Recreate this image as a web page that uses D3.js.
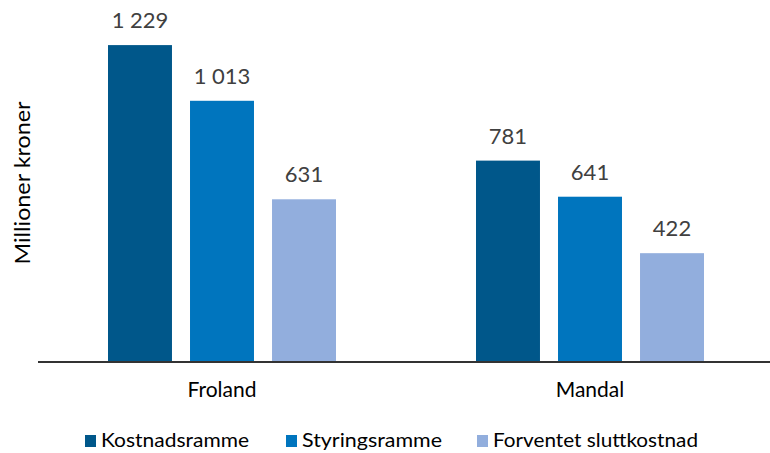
<!DOCTYPE html>
<html>
<head>
<meta charset="UTF-8">
<style>
  body { margin: 0; background: #fff; }
  text { font-family: Lato, "Open Sans", sans-serif; fill: #000; }
</style>
<script src="https://d3js.org/d3.v7.min.js"></script>
</head>
<body>
<div id="chart"></div>
<script>
const groups = ["Froland", "Mandal"];
const series = ["Kostnadsramme", "Styringsramme", "Forventet sluttkostnad"];
const colors = ["#00578A", "#0075BE", "#92AEDD"];
const values = {
  Froland: [1229, 1013, 631],
  Mandal: [781, 641, 422]
};

const width = 770, height = 453;
const svg = d3.select("#chart").append("svg")
  .attr("width", width).attr("height", height);

const x0 = d3.scaleBand().domain(groups).range([38, 774]);
const x1 = d3.scaleBand().domain(series).range([-114, 114]).paddingInner(0.22);
const y = d3.scaleLinear().domain([0, 1400]).range([362, 1]);

const fmt = v => d3.format(",")(v).replace(",", " ");

groups.forEach(g => {
  const cx = x0(g) + x0.bandwidth() / 2;
  series.forEach((s, i) => {
    const v = values[g][i];
    svg.append("rect")
      .attr("x", cx + x1(s))
      .attr("y", y(v))
      .attr("width", x1.bandwidth())
      .attr("height", y(0) - y(v))
      .attr("fill", colors[i]);
    svg.append("text")
      .attr("x", cx + x1(s) + x1.bandwidth() / 2)
      .attr("y", y(v) - 17)
      .attr("text-anchor", "middle")
      .attr("font-size", 22)
      .style("fill", "#404040")
      .text(fmt(v));
  });
  svg.append("text")
    .attr("x", cx)
    .attr("y", 397)
    .attr("text-anchor", "middle")
    .attr("font-size", 21)
    .text(g);
});

// baseline
svg.append("line")
  .attr("x1", 38).attr("x2", 770)
  .attr("y1", y(0)).attr("y2", y(0))
  .attr("stroke", "#333").attr("stroke-width", 2);

// y title
svg.append("text")
  .attr("transform", "translate(30,183) rotate(-90)")
  .attr("text-anchor", "middle")
  .attr("font-size", 21)
  .attr("textLength", 163)
  .attr("lengthAdjust", "spacingAndGlyphs")
  .text("Millioner kroner");

// legend
const legX = [85, 286, 477];
const legW = [148, 140, 205];
series.forEach((s, i) => {
  svg.append("rect")
    .attr("x", legX[i]).attr("y", 435)
    .attr("width", 11).attr("height", 12)
    .attr("fill", colors[i]);
  svg.append("text")
    .attr("x", legX[i] + 16).attr("y", 447)
    .attr("font-size", 19)
    .attr("textLength", legW[i])
    .attr("lengthAdjust", "spacingAndGlyphs")
    .text(s);
});
</script>
</body>
</html>
